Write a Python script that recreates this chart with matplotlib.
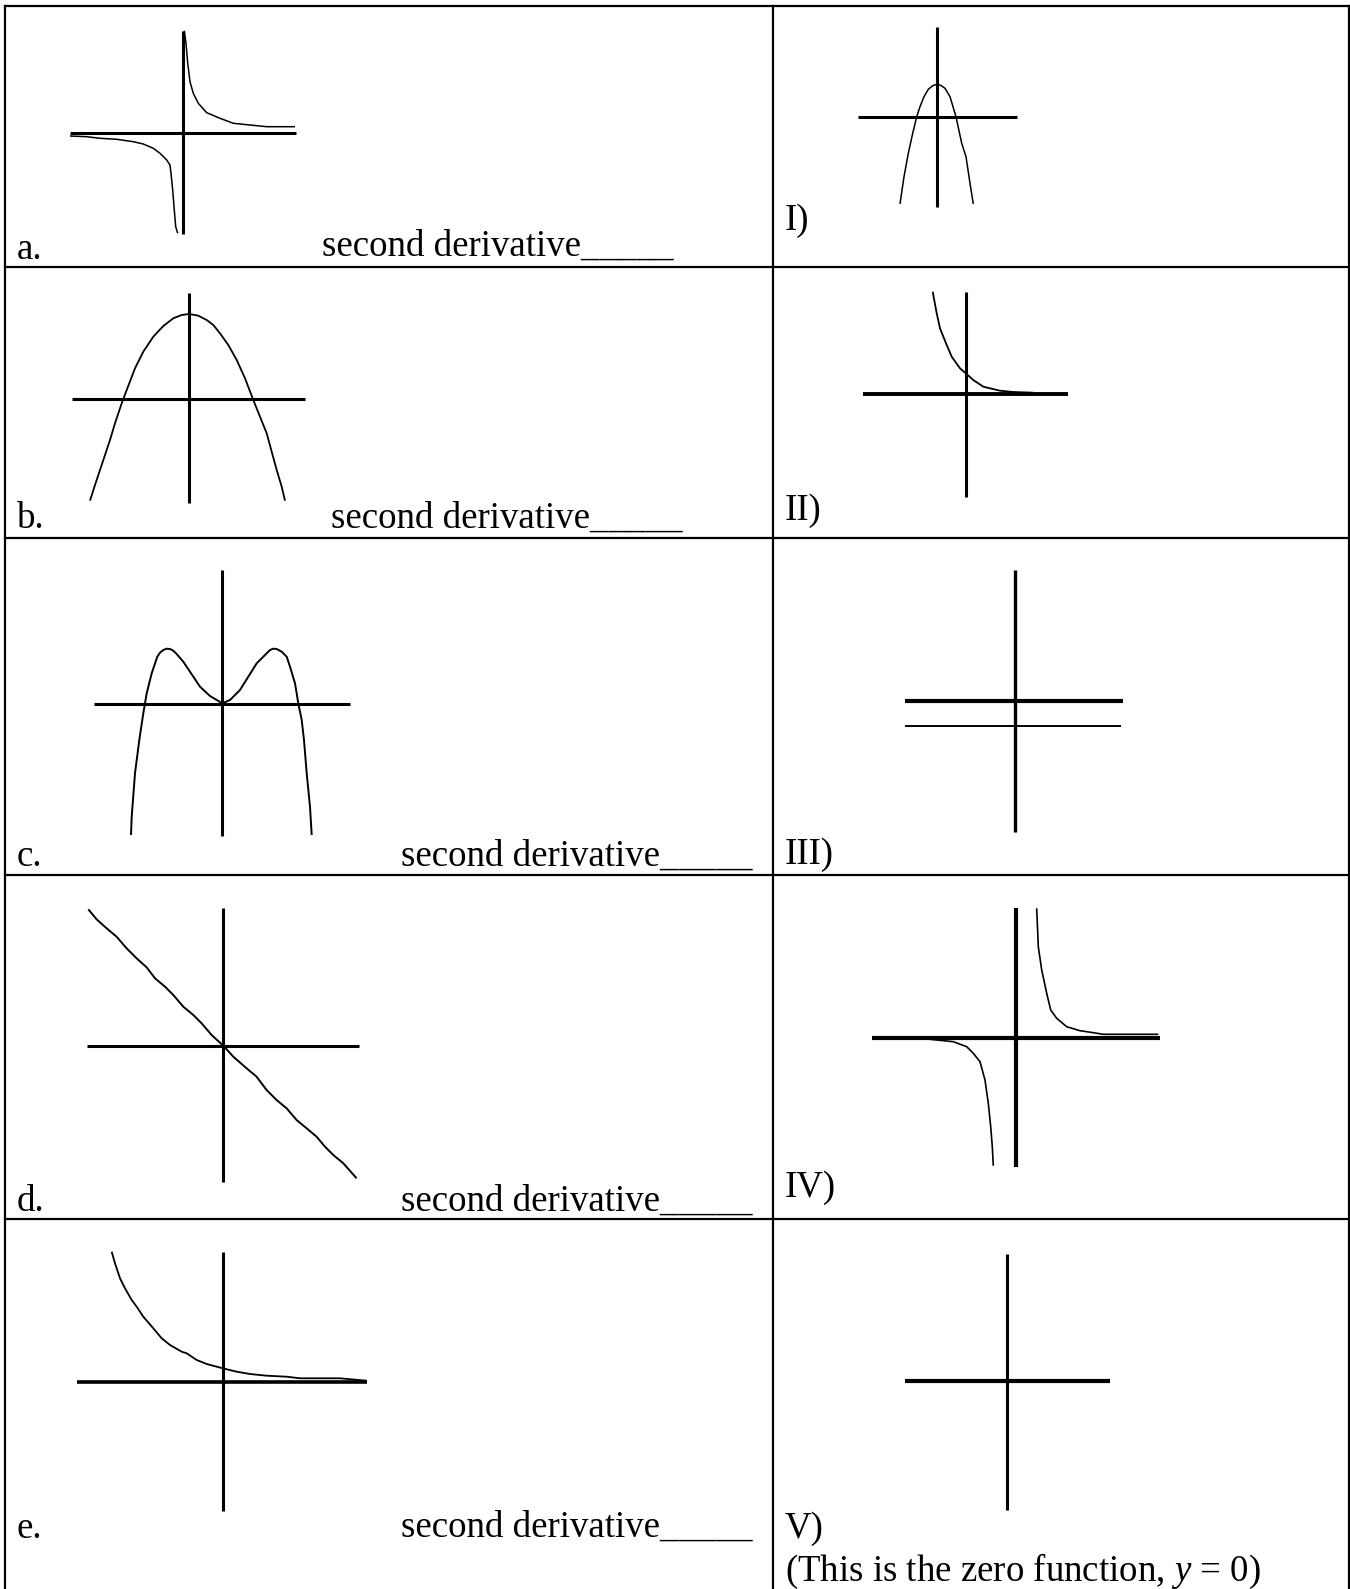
import matplotlib
matplotlib.use("Agg")
import matplotlib.pyplot as plt
import numpy as np

plt.rcParams['font.family'] = ['Liberation Serif', 'DejaVu Serif']
plt.rcParams['mathtext.fontset'] = 'custom'
plt.rcParams['mathtext.rm'] = 'Liberation Serif'
plt.rcParams['mathtext.it'] = 'Liberation Serif:italic'

# ---------------- table layout (pixels) ----------------
table_left, table_mid, table_right = 5, 773, 1349
row_lines = [6, 267, 538, 875, 1219]
table_bottom = 1589

# ---------------- labels ----------------
left_labels = ["a.", "b.", "c.", "d.", "e."]
left_label_y = [259, 528, 866, 1211, 1538]
answer_text = "second derivative_____"
answer_x = [322, 331, 401, 401, 401]
answer_y = [256, 528, 866, 1211, 1537]
right_labels = ["I)", "II)", "III)", "IV)", "V)"]
right_label_y = [230, 520, 864, 1197, 1538]
note_text = "(This is the zero function, $y$ = 0)"
note_y = 1581

# ---------------- sketches: origin + axis extents (local units, y up) -------
# a.
a_origin = (183, 133)
a_haxis = (-113, 113); a_vaxis = (-101, 102)
a_up_x = [1.3, 3, 4.7, 7, 10.3, 15.3, 23.7, 37, 50.3, 67, 83.7, 112]
a_up_y = [102.3, 89.7, 69.7, 51.3, 39.7, 29.7, 20.3, 14.7, 9.7, 8, 6.3, 6.3]
a_lo_x = [-113, -96.3, -83, -66.3, -49.7, -39.7, -29.7, -23, -16.3, -13, -12, -10.3, -9, -7.3, -5.3]
a_lo_y = [-3, -3.7, -5.3, -6.3, -8.7, -11, -15.3, -20.3, -27, -32, -40.3, -57, -73.7, -93.7, -100.3]

# I)
I_origin = (937, 117)
I_haxis = (-79, 80); I_vaxis = (-90, 90)
I_x = [-37, -33, -28.7, -24.3, -20.3, -17, -13, -8.7, -4, 0.3, 4, 8, 13, 19, 24.7, 29, 33, 36.3]
I_y = [-87, -59.7, -36.3, -16.3, 0.3, 10.3, 20.3, 27.7, 31.5, 32.7, 31.5, 28.7, 20.3, 0.3, -26.3, -39.7, -66.3, -87]

# b.
b_origin = (189, 399)
b_haxis = (-117, 116); b_vaxis = (-104, 106)
b_x = [-99, -94, -89, -84, -79, -74, -67.3, -62.3, -54, -45.7, -35.7, -25.7, -15.7, -7.3, 0.3,
       9.3, 17.7, 24.3, 31, 39.3, 47.7, 56, 64.3, 71, 77.7, 82.7, 87.7, 92.7, 96]
b_y = [-101.7, -86, -71, -56, -41, -24.3, -4.3, 9, 30.7, 47.3, 62.3, 73, 80.7, 84, 85,
       83.3, 79, 74, 65.7, 54, 39, 20.7, -1, -17.7, -34.3, -52.7, -71, -87.7, -101.7]

# II)
II_origin = (966, 394)
II_haxis = (-103, 102); II_vaxis = (-103, 102)
II_x = [-33.3, -29.3, -26, -19.3, -14.3, -6, -0.3, 7.3, 17.3, 34, 47.3, 67.3]
II_y = [102.3, 80.7, 65.7, 49, 37.3, 25.7, 20.7, 14, 7.3, 3.3, 2, 1.3]

# c.
c_origin = (222.3, 704)
c_haxis = (-128, 128); c_vaxis = (-132, 134)
c_x = [-91.3, -90.6, -87.3, -83, -79, -75.6, -70.6, -65, -62.3, -59, -55.6, -52.3, -49, -46.3, -39,
       -32.3, -22.3, -12.3, 0, 7.7, 17.7, 26, 34.4, 44.4, 47.7, 51, 54.4, 59.4, 62.7, 64.4, 67.7,
       72.7, 76, 79.4, 81.7, 84.4, 87.7, 89.4]
c_y = [-131, -112.7, -69.3, -36, -9.3, 10.7, 30.7, 47.3, 51.3, 54, 55.3, 55, 53.3, 50.7, 42.3,
       32.3, 17.3, 8, 0.7, 4, 14, 27.3, 40.7, 50.7, 54, 55.3, 55, 52.3, 49, 47.3, 37.3,
       20.7, 0.7, -16, -36, -69.3, -102.7, -131]

# III)
III_origin = (1015.3, 700.7)
III_haxis = (-110, 108); III_vaxis = (-131, 130.7)
III_const_x = [-110, 106]
III_const_y = [-25.3, -25.3]

# d.
d_origin = (223.3, 1045.7)
d_haxis = (-136, 136); d_vaxis = (-136, 137.4)
d_x = [-135, -126.7, -116.7, -106.7, -96.7, -86.7, -76.7, -68.3, -58.3, -50, -40, -30, -21.7, -11.7,
       0, 10, 23.3, 33.3, 43.3, 53.3, 63.3, 73.3, 83.3, 93.3, 101.7, 110, 120, 133.3]
d_y = [136.4, 126.4, 117.4, 109, 97.4, 87.4, 78.4, 67.4, 59, 50.7, 39, 30.7, 22.4, 10.7,
       0, -11, -22.6, -31, -44.3, -54.3, -62.6, -74.3, -82.6, -91, -101, -109.3, -117.6, -132.6]

# IV)
IV_origin = (1016.3, 1038)
IV_haxis = (-144, 143.7); IV_vaxis = (-129.3, 129.7)
IV_up_x = [20.4, 22, 25.4, 30.4, 34.4, 40.4, 50.4, 63.7, 77, 87, 97, 142]
IV_up_y = [129.7, 91.3, 68, 44.7, 28, 19.7, 11.3, 7.3, 5.3, 3.7, 3.7, 3.7]
IV_lo_x = [-86.3, -63, -49.6, -43, -36.3, -31.3, -28, -25.6, -24, -23]
IV_lo_y = [-1.3, -3.7, -8.7, -15.3, -23.7, -42, -65.3, -88.7, -108.7, -127.7]

# e.
e_origin = (222.7, 1381.7)
e_haxis = (-146, 144.6); e_vaxis = (-129, 130)
e_x = [-111, -107.7, -102.7, -97.7, -91, -86, -79.4, -69.4, -61, -52.7, -41, -36, -26, -16,
       0, 14, 27.3, 44, 64, 77.3, 117.3, 144]
e_y = [130, 118.4, 103.4, 93.4, 81.7, 75, 65, 53.4, 43.4, 36.7, 30, 28.4, 21.7, 17.7,
       13.4, 10, 7.7, 6, 5, 3.4, 3.4, 1]

# V)
V_origin = (1007.4, 1381.4)
V_haxis = (-102.4, 102.6); V_vaxis = (-128.6, 127.7)

# ---------------- drawing ----------------
fig = plt.figure(figsize=(13.5, 15.89), dpi=100)
ax = fig.add_axes([0, 0, 1, 1])
ax.set_xlim(0, 1350)
ax.set_ylim(1589, 0)
ax.axis('off')

K = 'black'
# table
for y in row_lines:
    ax.plot([table_left, table_right], [y, y], color=K, lw=1.6, solid_capstyle='projecting')
for x in (table_left, table_mid, table_right):
    ax.plot([x, x], [row_lines[0], table_bottom], color=K, lw=1.6, solid_capstyle='projecting')


def axes_cross(origin, hx, vy, hlw=2.2, vlw=2.2):
    ox, oy = origin
    ax.plot([ox + hx[0], ox + hx[1]], [oy, oy], color=K, lw=hlw, solid_capstyle='butt')
    ax.plot([ox, ox], [oy - vy[0], oy - vy[1]], color=K, lw=vlw, solid_capstyle='butt')


def curve(origin, xs, ys, lw=1.2):
    ox, oy = origin
    ax.plot(ox + np.asarray(xs), oy - np.asarray(ys), color=K, lw=lw,
            solid_joinstyle='round', solid_capstyle='butt')


axes_cross(a_origin, a_haxis, a_vaxis)
curve(a_origin, a_up_x, a_up_y, lw=1.1)
curve(a_origin, a_lo_x, a_lo_y, lw=1.1)

axes_cross(I_origin, I_haxis, I_vaxis)
curve(I_origin, I_x, I_y, lw=1.1)

axes_cross(b_origin, b_haxis, b_vaxis)
curve(b_origin, b_x, b_y, lw=1.3)

axes_cross(II_origin, II_haxis, II_vaxis, hlw=2.8)
curve(II_origin, II_x, II_y, lw=1.3)

axes_cross(c_origin, c_haxis, c_vaxis)
curve(c_origin, c_x, c_y, lw=1.4)

axes_cross(III_origin, III_haxis, III_vaxis, hlw=3.0, vlw=2.4)
curve(III_origin, III_const_x, III_const_y, lw=1.4)

axes_cross(d_origin, d_haxis, d_vaxis)
curve(d_origin, d_x, d_y, lw=1.4)

axes_cross(IV_origin, IV_haxis, IV_vaxis, hlw=3.0, vlw=3.0)
curve(IV_origin, IV_up_x, IV_up_y)
curve(IV_origin, IV_lo_x, IV_lo_y)

axes_cross(e_origin, e_haxis, e_vaxis, hlw=2.6)
curve(e_origin, e_x, e_y, lw=1.3)

axes_cross(V_origin, V_haxis, V_vaxis, hlw=3.0)

FS = 26.6
for lab, y in zip(left_labels, left_label_y):
    ax.text(17, y, lab, fontsize=FS, ha='left', va='baseline')
for x, y in zip(answer_x, answer_y):
    ax.text(x, y, answer_text, fontsize=FS, ha='left', va='baseline')
for lab, y in zip(right_labels, right_label_y):
    ax.text(785, y, lab, fontsize=FS, ha='left', va='baseline')
ax.text(785, note_y, note_text, fontsize=FS, ha='left', va='baseline')

fig.savefig("out.png", dpi=100, facecolor='white')
